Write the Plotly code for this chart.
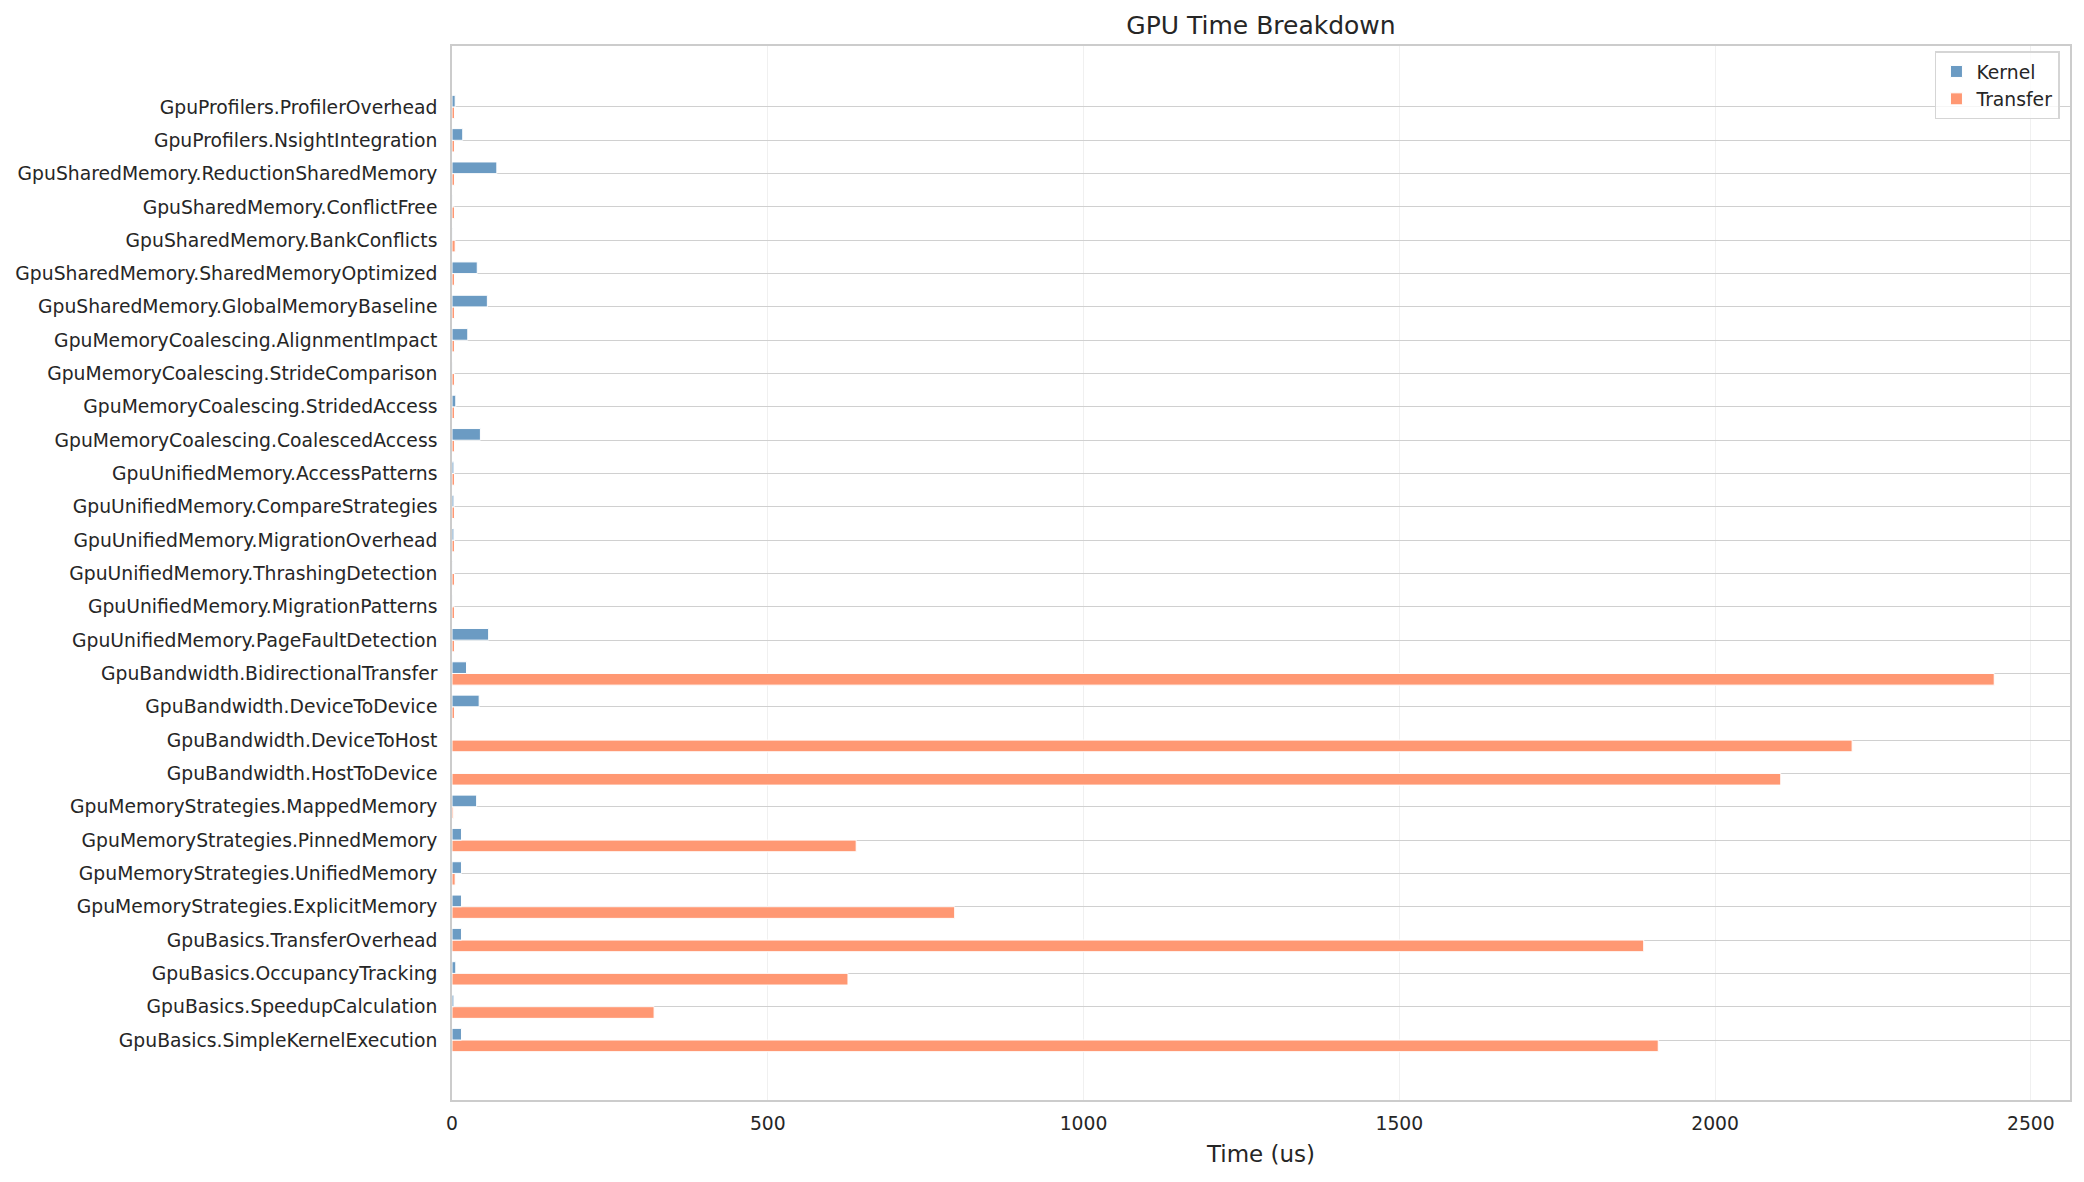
import plotly.graph_objects as go

# Test names, listed from the bottom of the chart to the top
tests = [
    "GpuBasics.SimpleKernelExecution",
    "GpuBasics.SpeedupCalculation",
    "GpuBasics.OccupancyTracking",
    "GpuBasics.TransferOverhead",
    "GpuMemoryStrategies.ExplicitMemory",
    "GpuMemoryStrategies.UnifiedMemory",
    "GpuMemoryStrategies.PinnedMemory",
    "GpuMemoryStrategies.MappedMemory",
    "GpuBandwidth.HostToDevice",
    "GpuBandwidth.DeviceToHost",
    "GpuBandwidth.DeviceToDevice",
    "GpuBandwidth.BidirectionalTransfer",
    "GpuUnifiedMemory.PageFaultDetection",
    "GpuUnifiedMemory.MigrationPatterns",
    "GpuUnifiedMemory.ThrashingDetection",
    "GpuUnifiedMemory.MigrationOverhead",
    "GpuUnifiedMemory.CompareStrategies",
    "GpuUnifiedMemory.AccessPatterns",
    "GpuMemoryCoalescing.CoalescedAccess",
    "GpuMemoryCoalescing.StridedAccess",
    "GpuMemoryCoalescing.StrideComparison",
    "GpuMemoryCoalescing.AlignmentImpact",
    "GpuSharedMemory.GlobalMemoryBaseline",
    "GpuSharedMemory.SharedMemoryOptimized",
    "GpuSharedMemory.BankConflicts",
    "GpuSharedMemory.ConflictFree",
    "GpuSharedMemory.ReductionSharedMemory",
    "GpuProfilers.NsightIntegration",
    "GpuProfilers.ProfilerOverhead",
]

# Kernel time (us)
kernel_us = [15, 3, 6, 15, 15, 15, 15, 39, 0, 0, 43, 23, 58, 1, 1, 3, 3, 3,
             45, 6, 1, 25, 56, 40, 1, 1, 71, 17, 5]

# Transfer time (us)
transfer_us = [1910, 320, 627, 1887, 796, 5, 640, 2, 2104, 2217, 4, 2442, 4, 4,
               4, 4, 4, 4, 4, 4, 4, 4, 4, 4, 5, 4, 4, 4, 4]

x_ticks = [0, 500, 1000, 1500, 2000, 2500]

font_family = "DejaVu Sans"
text_color = "#262626"

# the page body adds an 8px margin, so the figure is drawn 16px smaller
fig_w, fig_h = 2068, 1166

fig = go.Figure()

# Transfer first so it sits below the kernel bar inside each group
fig.add_trace(go.Bar(
    y=tests,
    x=transfer_us,
    orientation="h",
    name="Transfer",
    legendrank=2,
    marker=dict(color="#ff9873", line=dict(color="white", width=1)),
))

fig.add_trace(go.Bar(
    y=tests,
    x=kernel_us,
    orientation="h",
    name="Kernel",
    legendrank=1,
    marker=dict(color="#6b9bc3", line=dict(color="white", width=1)),
))

fig.update_layout(
    width=fig_w,
    height=fig_h,
    margin=dict(l=444, r=6, t=38, b=74),
    paper_bgcolor="white",
    plot_bgcolor="white",
    barmode="group",
    bargap=0.3,
    bargroupgap=0,
    font=dict(family=font_family, size=18.75, color=text_color),
    title=dict(
        text="GPU Time Breakdown",
        x=0.5,
        xref="paper",
        xanchor="center",
        y=1 - 17 / fig_h,
        yref="container",
        yanchor="middle",
        font=dict(size=25, color=text_color),
    ),
    legend=dict(
        x=0.9938,
        y=0.995,
        xanchor="right",
        yanchor="top",
        bgcolor="rgba(255,255,255,0.8)",
        bordercolor="#d5d5d5",
        borderwidth=1.5,
        tracegroupgap=0,
        font=dict(size=18.75, color=text_color),
    ),
    showlegend=True,
)

fig.update_xaxes(
    range=[0, 2562],
    tickvals=x_ticks,
    ticktext=[str(t) for t in x_ticks],
    showgrid=True,
    gridcolor="#f0f0f0",
    gridwidth=1.3,
    zeroline=False,
    showline=True,
    linecolor="#cccccc",
    linewidth=1.6,
    mirror=True,
    ticks="",
    ticklabelstandoff=6,
    title=dict(text="Time (us)", font=dict(size=23, color=text_color), standoff=13),
    automargin=False,
)

fig.update_yaxes(
    type="category",
    categoryorder="array",
    categoryarray=tests,
    range=[-1.80, 29.83],
    showgrid=True,
    gridcolor="#d0d0d0",
    gridwidth=1.4,
    zeroline=False,
    showline=True,
    linecolor="#cccccc",
    linewidth=1.6,
    mirror=True,
    ticks="",
    ticklabelstandoff=9,
    automargin=False,
)

fig.write_html("out.html")
